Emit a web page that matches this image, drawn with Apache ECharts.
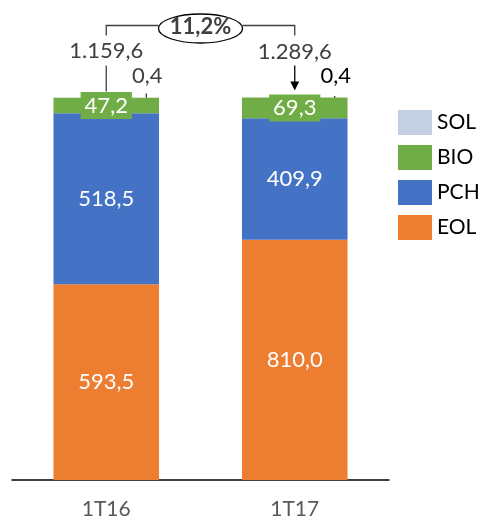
<!DOCTYPE html>
<html>
<head>
<meta charset="utf-8">
<script src="https://cdn.jsdelivr.net/npm/echarts@6/dist/echarts.min.js"></script>
<style>
html, body { margin: 0; padding: 0; background: #fff; }
#main { width: 481px; height: 520px; }
</style>
</head>
<body>
<div id="main"></div>
<script>
// datos
var categories = ['1T16', '1T17'];
var eolValues = [593.5, 810.0];
var pchValues = [518.5, 409.9];
var bioValues = [47.2, 69.3];
var solValues = [0.4, 0.4];
var legendOrder = ['SOL', 'BIO', 'PCH', 'EOL'];

var FONT = 'Lato';
var totals = categories.map(function (c, i) {
    return eolValues[i] + pchValues[i] + bioValues[i] + solValues[i];
});

// 1234.5 -> "1.234,5"
function fmt(v) {
    var s = v.toFixed(1).split('.');
    var ent = s[0].replace(/\B(?=(\d{3})+(?!\d))/g, '.');
    return ent + ',' + s[1];
}
function pct(arr) {
    return arr.map(function (v, i) { return v / totals[i] * 100; });
}

var myChart = echarts.init(document.getElementById('main'));

function insideLabel(arr, extra) {
    var lbl = {
        show: true,
        position: 'inside',
        color: '#fff',
        fontSize: 22,
        fontFamily: FONT,
        formatter: function (p) { return fmt(arr[p.dataIndex]); }
    };
    for (var k in extra) lbl[k] = extra[k];
    return lbl;
}

var option = {
    animation: false,
    textStyle: { fontFamily: FONT },
    grid: { left: 12, right: 92, top: 97.5, bottom: 40 },
    legend: {
        data: legendOrder,
        orient: 'vertical',
        left: 398,
        top: 110,
        padding: 0,
        itemWidth: 34,
        itemHeight: 25,
        itemGap: 10,
        icon: 'rect',
        textStyle: { fontSize: 21, color: '#000', fontFamily: FONT }
    },
    xAxis: {
        type: 'category',
        data: categories,
        axisLine: { lineStyle: { color: '#000', width: 1.5 } },
        axisTick: { show: false },
        axisLabel: { color: '#595959', fontSize: 21, margin: 19, fontFamily: FONT }
    },
    yAxis: {
        type: 'value',
        min: 0,
        max: 100,
        show: false
    },
    series: [
        {
            name: 'EOL', type: 'bar', stack: 'a', barWidth: '56%',
            itemStyle: { color: '#ED7D31' },
            data: pct(eolValues),
            label: insideLabel(eolValues, {})
        },
        {
            name: 'PCH', type: 'bar', stack: 'a',
            itemStyle: { color: '#4472C4' },
            data: pct(pchValues),
            label: insideLabel(pchValues, {})
        },
        {
            name: 'BIO', type: 'bar', stack: 'a',
            itemStyle: { color: '#70AD47' },
            data: pct(bioValues),
            label: insideLabel(bioValues, { backgroundColor: '#70AD47', padding: [3, 4, 2, 4] })
        },
        {
            name: 'SOL', type: 'bar', stack: 'a',
            itemStyle: { color: '#C5CFE2' },
            data: pct(solValues).map(function (v, i) {
                return { value: v, label: { color: i === 0 ? '#404040' : '#000' } };
            }),
            label: {
                show: true,
                position: 'top',
                offset: [41, -6],
                fontSize: 22,
                fontFamily: FONT,
                formatter: function (p) { return fmt(solValues[p.dataIndex]); }
            }
        }
    ]
};
myChart.setOption(option);

// anotaciones: totales, crecimiento, líneas
var topY = myChart.convertToPixel({ yAxisIndex: 0 }, 100);
var ax = myChart.convertToPixel({ xAxisIndex: 0 }, categories[0]);
var bx = myChart.convertToPixel({ xAxisIndex: 0 }, categories[1]);
var midX = (ax + bx) / 2;
var growth = (totals[1] / totals[0] - 1) * 100;
var grey = '#404040';
var ln = { stroke: grey, lineWidth: 1.3 };

var gfx = [
    { type: 'text', x: ax, y: topY - 47, style: { text: fmt(totals[0]), fill: grey, font: '22px ' + FONT, align: 'center', verticalAlign: 'middle' } },
    { type: 'text', x: bx, y: topY - 46, style: { text: fmt(totals[1]), fill: grey, font: '22px ' + FONT, align: 'center', verticalAlign: 'middle' } },
    // línea bajo el primer total
    { type: 'line', shape: { x1: ax, y1: topY - 32, x2: ax, y2: topY - 6 }, style: ln },
    // flecha bajo el segundo total
    { type: 'line', shape: { x1: bx, y1: topY - 32, x2: bx, y2: topY - 14 }, style: { stroke: '#000', lineWidth: 1.3 } },
    { type: 'polygon', shape: { points: [[bx - 4.5, topY - 16], [bx + 4.5, topY - 16], [bx, topY - 7]] }, style: { fill: '#000' } },
    // corchete
    { type: 'polyline', shape: { points: [[ax, topY - 62], [ax, topY - 72], [midX - 42, topY - 72]] }, style: { stroke: grey, lineWidth: 1.3, fill: null } },
    { type: 'polyline', shape: { points: [[midX + 42, topY - 72], [bx, topY - 72], [bx, topY - 62]] }, style: { stroke: grey, lineWidth: 1.3, fill: null } },
    { type: 'ellipse', shape: { cx: midX, cy: topY - 69, rx: 42, ry: 14.5 }, style: { stroke: '#000', lineWidth: 1.3, fill: '#fff' } },
    { type: 'text', x: midX, y: topY - 71, style: { text: fmt(growth) + '%', fill: grey, font: 'bold 22px ' + FONT, align: 'center', verticalAlign: 'middle' } }
];
// pequeñas guías de SOL
[ax, bx].forEach(function (x, i) {
    gfx.push({ type: 'line', shape: { x1: x + 40, y1: topY - (i === 0 ? 4 : 1.5), x2: x + 40, y2: topY + 1 }, style: { stroke: '#000', lineWidth: 1 } });
});
myChart.setOption({ graphic: gfx });
</script>
</body>
</html>
